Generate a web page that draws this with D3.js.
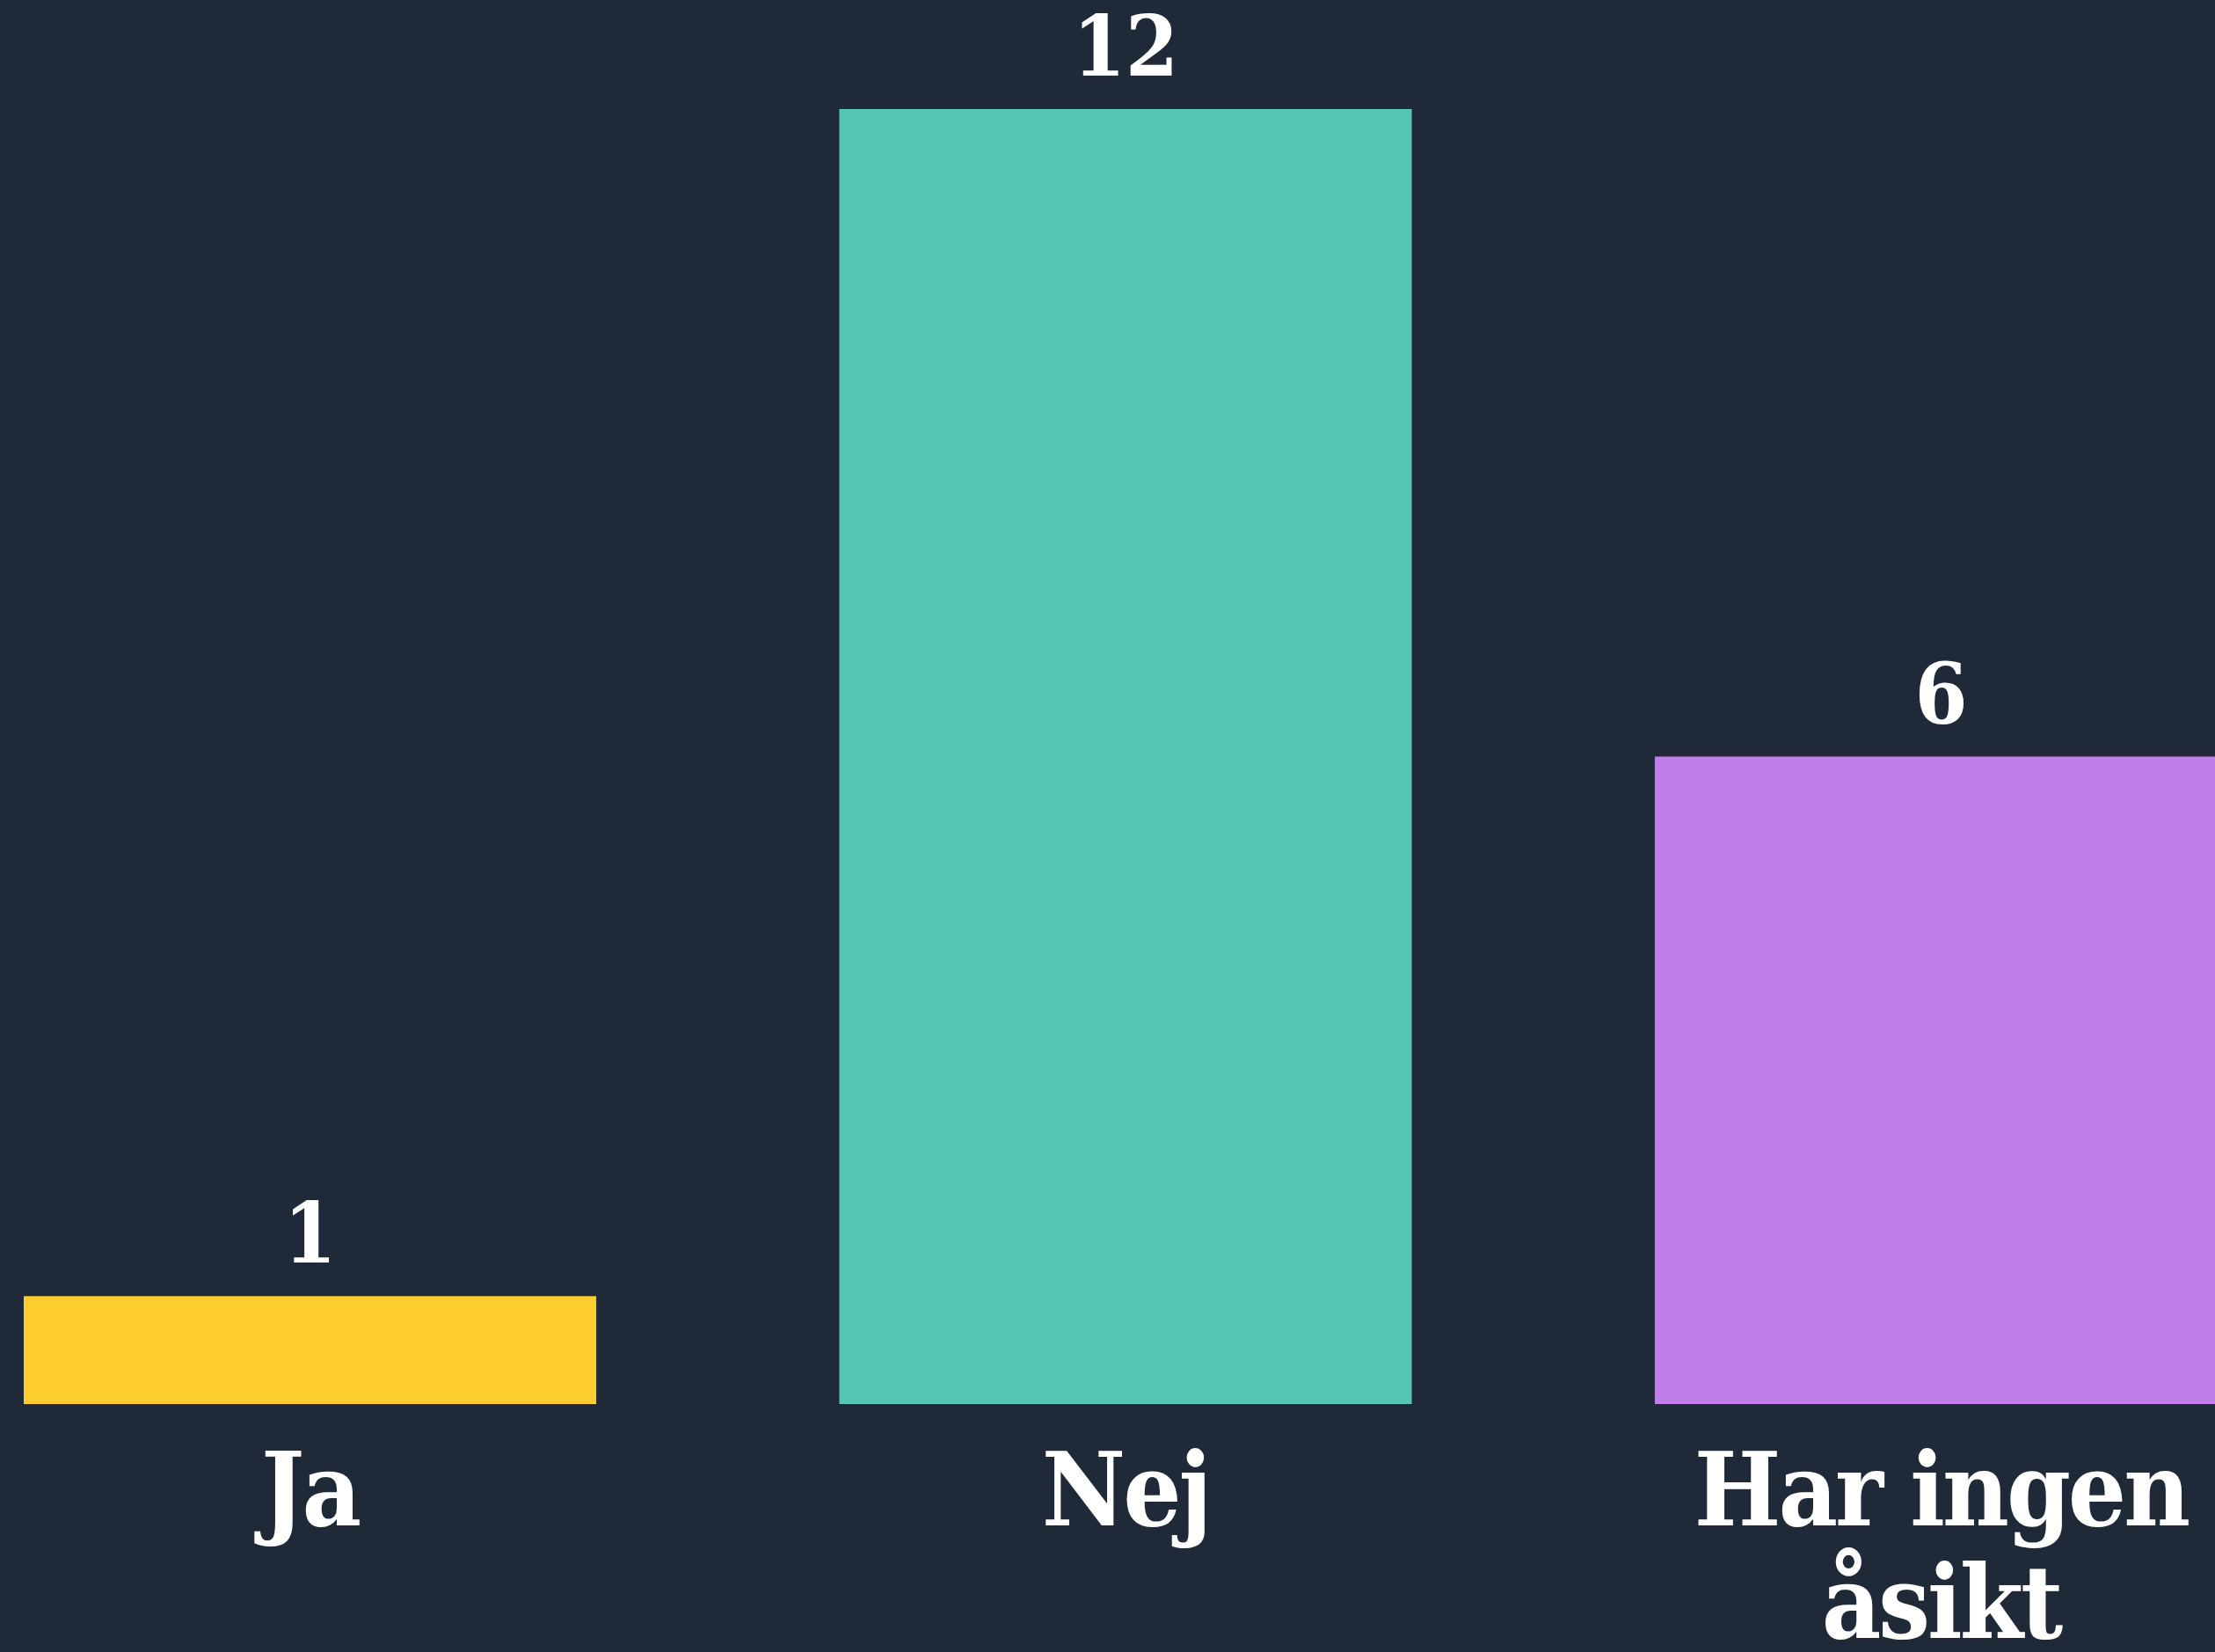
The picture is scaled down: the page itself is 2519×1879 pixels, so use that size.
<!DOCTYPE html>
<html>
<head>
<meta charset="utf-8">
<script src="https://cdn.jsdelivr.net/npm/d3@7"></script>
<style>
  html, body { margin: 0; padding: 0; background: #1f2937; overflow: hidden; }
  svg { display: block; }
</style>
</head>
<body>
<svg id="chart" width="2519" height="1879"></svg>
<script>
const categories = ["Ja", "Nej", "Har ingen åsikt"];
const values = [1, 12, 6];
const colors = ["#fecd2f", "#56c6b4", "#bf7eea"];

const W = 2519, H = 1879;
const svg = d3.select("#chart");
svg.append("rect").attr("width", W).attr("height", H).attr("fill", "#1f2937");

const x = d3.scaleBand().domain(categories).range([27, 2533]).paddingInner(0.298).paddingOuter(0);
const y = d3.scaleLinear().domain([0, 12]).range([1597, 124]);

const fontFam = "'DejaVu Serif Condensed', 'DejaVu Serif', serif";

svg.selectAll("rect.bar").data(categories).join("rect")
  .attr("class", "bar")
  .attr("x", d => x(d))
  .attr("width", x.bandwidth())
  .attr("y", (d, i) => y(values[i]))
  .attr("height", (d, i) => y(0) - y(values[i]))
  .attr("fill", (d, i) => colors[i]);

svg.selectAll("text.val").data(categories).join("text")
  .attr("class", "val")
  .attr("x", d => x(d) + x.bandwidth() / 2)
  .attr("y", (d, i) => y(values[i]) - 38)
  .attr("text-anchor", "middle")
  .attr("fill", "#ffffff")
  .attr("font-family", fontFam)
  .attr("font-weight", "bold")
  .attr("font-size", 96)
  .text((d, i) => values[i]);

// category labels with wrapping
const labels = svg.selectAll("text.cat").data(categories).join("text")
  .attr("class", "cat")
  .attr("x", d => x(d) + x.bandwidth() / 2)
  .attr("y", y(0) + 138)
  .attr("text-anchor", "middle")
  .attr("fill", "#ffffff")
  .attr("font-family", fontFam)
  .attr("font-weight", "bold")
  .attr("font-size", 116)
  .attr("letter-spacing", -3);

labels.each(function(d) {
  const t = d3.select(this);
  const cx = x(d) + x.bandwidth() / 2;
  const words = d.split(" ");
  let lines = [], cur = [];
  const probe = t.append("tspan");
  words.forEach(w => {
    const test = cur.concat([w]).join(" ");
    probe.text(test);
    if (probe.node().getComputedTextLength() > x.bandwidth() - 40 && cur.length) {
      lines.push(cur.join(" "));
      cur = [w];
    } else {
      cur.push(w);
    }
  });
  lines.push(cur.join(" "));
  probe.remove();
  lines.forEach((ln, i) => {
    t.append("tspan").attr("x", cx).attr("dy", i === 0 ? 0 : 128).text(ln);
  });
});
</script>
</body>
</html>
